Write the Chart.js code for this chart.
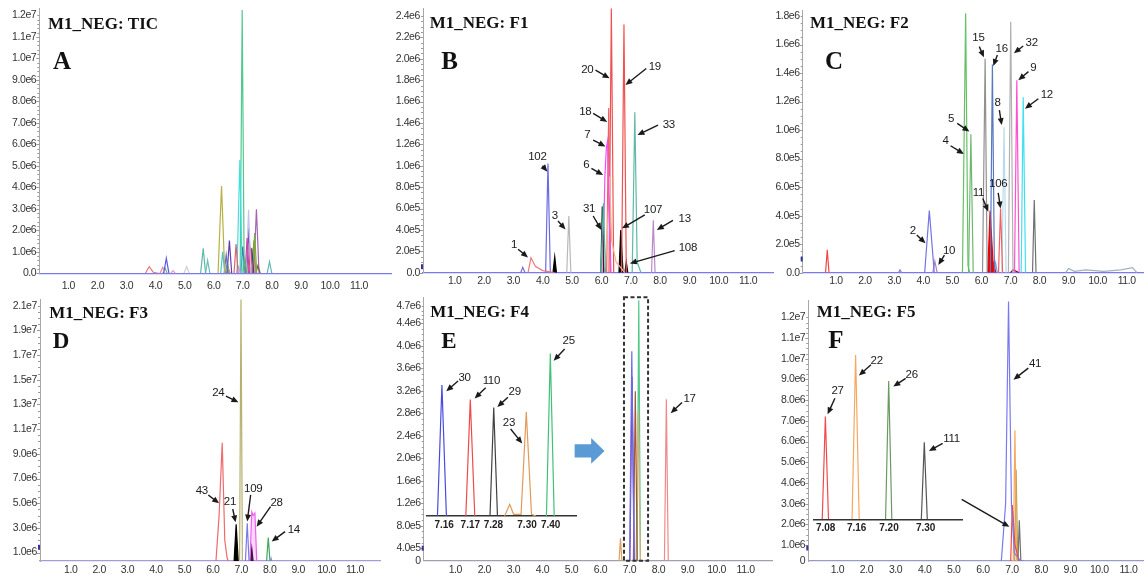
<!DOCTYPE html>
<html>
<head>
<meta charset="utf-8">
<script src="https://cdn.jsdelivr.net/npm/chart.js@4.4.0/dist/chart.umd.min.js"></script>
<style>
  html, body { margin: 0; padding: 0; background: #fff; }
  body { width: 1144px; height: 574px; position: relative; overflow: hidden; }
  canvas { position: absolute; }
</style>
</head>
<body>
<canvas id="cA" width="395" height="295" style="left:0px;top:0px"></canvas>
<canvas id="cB" width="400" height="295" style="left:378px;top:0px"></canvas>
<canvas id="cC" width="384" height="295" style="left:760px;top:0px"></canvas>
<canvas id="cD" width="385" height="284" style="left:0px;top:290px"></canvas>
<canvas id="cE" width="400" height="284" style="left:378px;top:290px"></canvas>
<canvas id="cF" width="384" height="284" style="left:760px;top:290px"></canvas>
<canvas id="iE" width="165" height="205" style="left:420px;top:330px"></canvas>
<canvas id="iF" width="165" height="200" style="left:806px;top:342px"></canvas>
<script>
// retention time axis (min)
const xTickVals = [1, 2, 3, 4, 5, 6, 7, 8, 9, 10, 11];
const xTickText = ["1.0", "2.0", "3.0", "4.0", "5.0", "6.0", "7.0", "8.0", "9.0", "10.0", "11.0"];

// intensities are in units of 1e6 counts
const yTickValsA = [0, 1, 2, 3, 4, 5, 6, 7, 8, 9, 10, 11, 12];
const yTickTextA = ["0.0", "1.0e6", "2.0e6", "3.0e6", "4.0e6", "5.0e6", "6.0e6", "7.0e6", "8.0e6", "9.0e6", "1.0e7", "1.1e7", "1.2e7"];
const yTickValsB = [0, 0.2, 0.4, 0.6, 0.8, 1.0, 1.2, 1.4, 1.6, 1.8, 2.0, 2.2, 2.4];
const yTickTextB = ["0.0", "2.0e5", "4.0e5", "6.0e5", "8.0e5", "1.0e6", "1.2e6", "1.4e6", "1.6e6", "1.8e6", "2.0e6", "2.2e6", "2.4e6"];
const yTickValsC = [0, 0.2, 0.4, 0.6, 0.8, 1.0, 1.2, 1.4, 1.6, 1.8];
const yTickTextC = ["0.0", "2.0e5", "4.0e5", "6.0e5", "8.0e5", "1.0e6", "1.2e6", "1.4e6", "1.6e6", "1.8e6"];
const yTickValsD = [1, 3, 5, 7, 9, 11, 13, 15, 17, 19, 21];
const yTickTextD = ["1.0e6", "3.0e6", "5.0e6", "7.0e6", "9.0e6", "1.1e7", "1.3e7", "1.5e7", "1.7e7", "1.9e7", "2.1e7"];
const yTickValsE = [0.178, 0.4, 0.8, 1.2, 1.6, 2.0, 2.4, 2.8, 3.2, 3.6, 4.0, 4.4, 4.7];
const yTickTextE = ["0", "4.0e5", "8.0e5", "1.2e6", "1.6e6", "2.0e6", "2.4e6", "2.8e6", "3.2e6", "3.6e6", "4.0e6", "4.4e6", "4.7e6"];
const yTickValsF = [0.227, 1, 2, 3, 4, 5, 6, 7, 8, 9, 10, 11, 12];
const yTickTextF = ["0", "1.0e6", "2.0e6", "3.0e6", "4.0e6", "5.0e6", "6.0e6", "7.0e6", "8.0e6", "9.0e6", "1.0e7", "1.1e7", "1.2e7"];

// A: TIC
const peaksA = [
  [[3.65, 0], [3.78, 0.31], [3.92, 0.05], [4.1, 0]],
  [[4.15, 0], [4.25, 0.28], [4.32, 0]],
  [[4.28, 0], [4.37, 0.7], [4.46, 0]],
  [[4.25, 0], [4.33, 0.23], [4.4, 0]],
  [[4.52, 0], [4.6, 0.12], [4.68, 0]],
  [[4.98, 0], [5.07, 0.31], [5.16, 0]],
  [[5.55, 0], [5.64, 1.16], [5.72, 0]],
  [[5.72, 0], [5.79, 0.6], [5.87, 0]],
  [[6.15, 0], [6.27, 4.06], [6.38, 0]],
  [[6.24, 0], [6.31, 1.0], [6.38, 0]],
  [[6.36, 0], [6.43, 0.85], [6.5, 0]],
  [[6.46, 0], [6.54, 1.52], [6.62, 0]],
  [[6.44, 0], [6.5, 0.23], [6.58, 0]],
  [[6.4, 0], [6.47, 0.5], [6.54, 0]],
  [[6.7, 0], [6.77, 1.36], [6.84, 0]],
  [[6.78, 0], [6.85, 0.3], [6.92, 0]],
  [[6.8, 0], [6.9, 5.27], [6.98, 0]],
  [[6.91, 0], [6.98, 12.25], [7.05, 0]],
  [[6.93, 0], [7.0, 1.24], [7.07, 0]],
  [[7.0, 0], [7.07, 0.62], [7.14, 0]],
  [[7.08, 0], [7.15, 1.64], [7.22, 0]],
  [[7.11, 0], [7.2, 2.95], [7.28, 0]],
  [[7.14, 0], [7.21, 2.09], [7.28, 0]],
  [[7.2, 0], [7.27, 1.2], [7.34, 0]],
  [[7.24, 0], [7.31, 1.16], [7.38, 0]],
  [[7.31, 0], [7.38, 1.52], [7.45, 0]],
  [[7.34, 0], [7.41, 1.87], [7.48, 0]],
  [[7.45, 0], [7.52, 0.35], [7.6, 0]],
  [[7.38, 0], [7.47, 2.98], [7.56, 0]],
  [[7.84, 0], [7.92, 0.54], [8.0, 0]]
];
const colorsA = ["#e87a7a", "#e48aa8", "#5a5ae0", "#59b5a5", "#e59ab8", "#d0d0d0", "#5fb8aa", "#6cc0b5",
  "#b8b040", "#40c8c8", "#6070d0", "#6040b0", "#e0a050", "#60a080", "#e06070", "#c0a0e0", "#40e0e0",
  "#50c890", "#3050b0", "#60b060", "#d040a0", "#c8c0f0", "#8050b0", "#e04060", "#304090", "#90a030",
  "#70b040", "#806040", "#a860b8", "#60b8b0"];

// B: F1
const peaksB = [
  [[3.25, 0], [3.32, 0.05], [3.4, 0]],
  [[3.5, 0], [3.6, 0.14], [3.75, 0.06], [4.0, 0.02], [4.4, 0]],
  [[4.1, 0], [4.18, 1.02], [4.26, 0]],
  [[4.35, 0], [4.41, 0.15], [4.47, 0]],
  [[4.82, 0], [4.89, 0.53], [4.96, 0]],
  [[5.98, 0], [6.07, 0.65], [6.14, 0]],
  [[5.98, 0], [6.03, 0.62], [6.08, 0]],
  [[6.05, 0], [6.12, 0.9], [6.17, 1.17], [6.21, 1.23], [6.26, 0.6], [6.32, 0]],
  [[6.1, 0], [6.2, 0.35], [6.28, 0.9], [6.35, 0.3], [6.5, 0.1], [6.8, 0]],
  [[6.18, 0], [6.25, 1.54], [6.32, 0]],
  [[6.26, 0], [6.34, 2.47], [6.42, 0]],
  [[6.69, 0], [6.77, 2.32], [6.85, 0]],
  [[6.6, 0], [6.66, 0.4], [6.74, 0]],
  [[6.8, 0], [6.85, 0.1], [6.9, 0]],
  [[7.05, 0], [7.14, 1.5], [7.22, 0.1], [7.35, 0]],
  [[7.71, 0], [7.77, 0.49], [7.83, 0]]
];
const colorsB = ["#7070e0", "#f07878", "#6a6ae8", "#000000", "#b8b8b8", "#50b8a0", "#202020", "#f050f0",
  "#f5b090", "#f06060", "#f05050", "#f05050", "#000000", "#000000", "#60b8a8", "#b88ac8"];
const fillB = [false, false, false, true, false, false, false, false, false, false, false, false, true, true, false, false];

// C: F2
const peaksC = [
  [[0.64, 0], [0.7, 0.16], [0.76, 0]],
  [[3.15, 0], [3.2, 0.02], [3.26, 0]],
  [[4.05, 0], [4.21, 0.435], [4.38, 0]],
  [[4.33, 0], [4.4, 0.08], [4.48, 0]],
  [[5.35, 0], [5.46, 1.82], [5.54, 0.05], [5.6, 0]],
  [[5.56, 0], [5.64, 0.97], [5.72, 0]],
  [[6.04, 0], [6.13, 1.5], [6.2, 0]],
  [[6.31, 0], [6.38, 1.46], [6.45, 0]],
  [[6.22, 0], [6.3, 0.435], [6.4, 0.08], [6.5, 0]],
  [[6.59, 0], [6.66, 0.45], [6.73, 0]],
  [[6.71, 0], [6.78, 1.02], [6.85, 0]],
  [[6.93, 0], [7.01, 1.76], [7.09, 0]],
  [[7.14, 0], [7.22, 1.35], [7.3, 0]],
  [[7.37, 0], [7.44, 1.23], [7.52, 0]],
  [[7.76, 0], [7.82, 0.51], [7.88, 0]],
  [[6.44, 0], [6.49, 0.07], [6.55, 0]],
  [[7.0, 0], [7.1, 0.02], [7.3, 0]],
  [[8.9, 0], [9.0, 0.03], [9.2, 0.01], [9.6, 0.02], [10.2, 0.01], [10.8, 0.02], [11.2, 0.035], [11.35, 0]]
];
const colorsC = ["#f04848", "#8080e0", "#7474e4", "#b080c8", "#66c066", "#70b870", "#909090", "#5878c0",
  "#ee0000", "#f06060", "#b8dceb", "#b0b0b0", "#ff50d0", "#40e0f0", "#707070", "#80a0e0", "#900030", "#a0b0c0"];
const fillC = [false, false, false, false, false, false, false, false, true, false, false, false, false, false, false, false, false, false];

// D: F3
const peaksD = [
  [[6.1, 0], [6.22, 4.0], [6.33, 9.9], [6.42, 2.0], [6.5, 0.6], [6.58, 0]],
  [[6.94, 0], [6.99, 21.5], [7.04, 0]],
  [[6.74, 0], [6.82, 3.3], [6.9, 0]],
  [[7.14, 0], [7.21, 3.38], [7.28, 0]],
  [[7.3, 0], [7.37, 4.3], [7.42, 4.0], [7.48, 4.2], [7.55, 0]],
  [[7.31, 0], [7.37, 1.35], [7.43, 0]],
  [[7.88, 0], [7.95, 2.21], [8.02, 0]],
  [[8.0, 0], [8.05, 0.5], [8.1, 0]]
];
const colorsD = ["#f06a6a", "#b8b070", "#000000", "#7878f0", "#f060f0", "#000000", "#40a860", "#8080f0"];
const fillD = [false, false, "#000000", false, "rgba(240,96,240,0.25)", "#000000", false, false];

// E: F4
const peaksE = [
  [[6.62, 0], [6.69, 0.575], [6.76, 0]],
  [[7.0, 0], [7.08, 3.9], [7.16, 0]],
  [[7.01, 0], [7.09, 3.45], [7.17, 0]],
  [[7.13, 0], [7.2, 3.19], [7.27, 0]],
  [[7.22, 0], [7.3, 2.83], [7.38, 0]],
  [[7.26, 0], [7.32, 4.81], [7.38, 0]],
  [[8.2, 0], [8.27, 3.05], [8.34, 0]]
];
const colorsE = ["#e0a060", "#6a6ae8", "#7a40a8", "#a05838", "#d8b078", "#50c888", "#f08a8a"];

// F: F5
const peaksF = [
  [[6.62, 0], [6.78, 3.0], [6.88, 12.77], [6.98, 3.0], [7.08, 0.6], [7.3, 0.25], [7.8, 0.05], [8.2, 0]],
  [[6.95, 0], [7.01, 2.93], [7.1, 1.0], [7.25, 0.2], [7.4, 0]],
  [[7.04, 0], [7.1, 6.54], [7.16, 0]],
  [[7.09, 0], [7.14, 4.65], [7.2, 0]],
  [[7.2, 0], [7.25, 2.19], [7.31, 0]],
  [[7.2, 0], [7.4, 0.2], [7.8, 0.1], [8.2, 0]]
];
const colorsF = ["#7a7af0", "#f04848", "#f8a860", "#b0a048", "#707070", "#a080c0"];

// insets (zoomed single peaks, own axis)
const insetETickVals = [1.15, 2.9, 4.45, 6.7, 8.28];
const insetETickText = ["7.16", "7.17", "7.28", "7.30", "7.40"];
const insetEPeaks = [
  [[0.7, 0], [1.0, 2.33], [1.3, 0]],
  [[2.6, 0], [2.9, 2.07], [3.2, 0]],
  [[4.22, 0], [4.47, 1.93], [4.72, 0]],
  [[5.2, 0], [5.54, 0.207], [5.8, 0.03], [6.3, 0.03], [6.65, 1.85], [7.0, 0.03], [7.3, 0]],
  [[8.0, 0], [8.26, 2.89], [8.52, 0]]
];
const insetEColors = ["#4a4ae0", "#ee4a4a", "#404040", "#e09a5a", "#40c078"];
const insetFTickVals = [0.83, 2.91, 5.08, 7.54];
const insetFTickText = ["7.08", "7.16", "7.20", "7.30"];
const insetFPeaks = [
  [[0.6, 0], [0.81, 4.96], [1.02, 0]],
  [[2.6, 0], [2.84, 7.94], [3.08, 0]],
  [[4.85, 0], [5.06, 6.68], [5.27, 0]],
  [[7.25, 0], [7.45, 3.72], [7.65, 0]]
];
const insetFColors = ["#f04a4a", "#f5a860", "#6a9a60", "#555555"];

// compound labels: [text, textX, textY, fromX, fromY, toX, toY]
const notesB = [
  ["1", 3.02, 0.26, 3.16, 0.22, 3.5, 0.143],
  ["102", 3.82, 1.085, 3.99, 1.0, 4.16, 0.945],
  ["3", 4.41, 0.53, 4.52, 0.483, 4.78, 0.405],
  ["31", 5.58, 0.595, 5.72, 0.53, 6.0, 0.4],
  ["6", 5.49, 1.013, 5.66, 0.976, 6.06, 0.913],
  ["7", 5.52, 1.287, 5.72, 1.24, 6.14, 1.18],
  ["18", 5.45, 1.506, 5.72, 1.49, 6.2, 1.41],
  ["20", 5.52, 1.9, 5.8, 1.895, 6.28, 1.817],
  ["19", 7.82, 1.926, 7.53, 1.91, 6.82, 1.755],
  ["33", 8.3, 1.38, 7.93, 1.38, 7.23, 1.287],
  ["107", 7.76, 0.586, 7.48, 0.54, 6.7, 0.415],
  ["13", 8.84, 0.508, 8.44, 0.49, 7.89, 0.4],
  ["108", 8.95, 0.228, 8.5, 0.206, 6.97, 0.087]
];
const notesC = [
  ["2", 3.64, 0.295, 3.78, 0.264, 4.08, 0.206],
  ["10", 4.89, 0.154, 4.73, 0.124, 4.52, 0.054],
  ["4", 4.77, 0.923, 4.94, 0.89, 5.4, 0.832],
  ["5", 4.96, 1.08, 5.17, 1.047, 5.59, 0.99],
  ["15", 5.9, 1.648, 5.93, 1.585, 6.09, 1.51],
  ["16", 6.7, 1.573, 6.55, 1.526, 6.41, 1.449],
  ["32", 7.73, 1.615, 7.44, 1.59, 7.12, 1.538],
  ["9", 7.79, 1.44, 7.62, 1.41, 7.27, 1.35],
  ["12", 8.25, 1.25, 7.96, 1.22, 7.5, 1.15],
  ["8", 6.56, 1.19, 6.62, 1.14, 6.7, 1.035],
  ["11", 5.9, 0.56, 6.05, 0.52, 6.24, 0.428],
  ["106", 6.58, 0.626, 6.58, 0.56, 6.66, 0.45]
];
const notesD = [
  ["24", 6.19, 13.98, 6.46, 13.68, 6.9, 13.17],
  ["43", 5.61, 5.99, 5.84, 5.67, 6.22, 4.99],
  ["21", 6.6, 5.13, 6.7, 4.53, 6.8, 3.45],
  ["109", 7.42, 6.13, 7.33, 5.67, 7.21, 3.51],
  ["28", 8.24, 5.07, 8.03, 4.72, 7.54, 3.1],
  ["14", 8.85, 2.83, 8.54, 2.7, 8.07, 1.89]
];
const notesE = [["17", 9.07, 3.06, 8.81, 2.99, 8.42, 2.8]];
const notesF = [
  ["41", 7.79, 9.76, 7.56, 9.55, 7.05, 8.99],
  ["", 0, 0, 5.27, 3.2, 6.91, 1.88]
];
const notesInsetE = [
  ["30", 2.52, 2.46, 2.08, 2.4, 1.29, 2.22],
  ["110", 4.31, 2.4, 3.93, 2.28, 3.19, 2.09],
  ["29", 5.87, 2.2, 5.42, 2.11, 4.71, 1.94],
  ["23", 5.49, 1.665, 5.6, 1.547, 6.38, 1.29],
  ["25", 9.49, 3.11, 9.22, 2.97, 8.48, 2.76]
];
const notesInsetF = [
  ["27", 1.63, 6.2, 1.45, 5.85, 0.96, 5.07],
  ["22", 4.25, 7.65, 3.87, 7.46, 3.06, 6.94],
  ["26", 6.6, 6.97, 6.2, 6.81, 5.37, 6.41],
  ["111", 9.28, 3.88, 8.68, 3.67, 7.76, 3.3]
];

const SANS = "'Liberation Sans', Arial, sans-serif";
const SERIF = "'Liberation Serif', 'Times New Roman', serif";

function drawArrow(ctx, x1, y1, x2, y2) {
  var ang = Math.atan2(y2 - y1, x2 - x1);
  var L = 7, W = 3;
  ctx.beginPath();
  ctx.moveTo(x1, y1);
  ctx.lineTo(x2 - Math.cos(ang) * L * 0.7, y2 - Math.sin(ang) * L * 0.7);
  ctx.stroke();
  ctx.beginPath();
  ctx.moveTo(x2, y2);
  ctx.lineTo(x2 - L * Math.cos(ang) + W * Math.sin(ang), y2 - L * Math.sin(ang) - W * Math.cos(ang));
  ctx.lineTo(x2 - L * Math.cos(ang) - W * Math.sin(ang), y2 - L * Math.sin(ang) + W * Math.cos(ang));
  ctx.closePath();
  ctx.fill();
}

const notesPlugin = {
  id: "notes",
  beforeDraw(chart, args, o) {
    // the scanned tick labels are a bit condensed
    chart.ctx.letterSpacing = o.squeeze || "0px";
  },
  afterDraw(chart, args, o) {
    var ctx = chart.ctx, xs = chart.scales.x, ys = chart.scales.y, a = chart.chartArea;
    ctx.save();
    // minor ticks along the y axis
    if (o.minor && ys.options.display) {
      var t = ys.ticks;
      ctx.strokeStyle = "#9a9a9a";
      ctx.lineWidth = 1;
      for (var i = o.minorFrom || 0; i < t.length - 1; i++) {
        var p0 = ys.getPixelForValue(t[i].value), p1 = ys.getPixelForValue(t[i + 1].value);
        for (var k = 0; k <= o.minor; k++) {
          var py = Math.round(p0 + (p1 - p0) * k / o.minor) + 0.5;
          ctx.beginPath();
          ctx.moveTo(a.left - (k === 0 ? 3 : 2), py);
          ctx.lineTo(a.left, py);
          ctx.stroke();
        }
      }
    }
    if (o.mark !== undefined) {
      ctx.fillStyle = "#34349a";
      ctx.fillRect(a.left - 2, ys.getPixelForValue(o.mark) - 2.5, 2, 5);
    }
    if (o.box) {
      ctx.setLineDash([4, 2.5]);
      ctx.strokeStyle = "#333";
      ctx.lineWidth = 2;
      var bx0 = xs.getPixelForValue(o.box[0]), bx1 = xs.getPixelForValue(o.box[1]);
      var by0 = ys.getPixelForValue(o.box[2]), by1 = ys.getPixelForValue(o.box[3]);
      ctx.strokeRect(bx0, by1, bx1 - bx0, by0 - by1);
      ctx.setLineDash([]);
    }
    if (o.block) {
      var b = o.block;
      var X0 = xs.getPixelForValue(b[0]), X1 = xs.getPixelForValue(b[1]), X2 = xs.getPixelForValue(b[2]);
      var yc = ys.getPixelForValue(b[3]);
      var sh = ys.getPixelForValue(b[3] - b[4]) - yc, hh = ys.getPixelForValue(b[3] - b[5]) - yc;
      ctx.fillStyle = "#5b9bd5";
      ctx.beginPath();
      ctx.moveTo(X0, yc - sh); ctx.lineTo(X1, yc - sh); ctx.lineTo(X1, yc - hh);
      ctx.lineTo(X2, yc); ctx.lineTo(X1, yc + hh); ctx.lineTo(X1, yc + sh); ctx.lineTo(X0, yc + sh);
      ctx.closePath();
      ctx.fill();
    }
    ctx.strokeStyle = "#1a1a1a";
    ctx.fillStyle = "#1a1a1a";
    ctx.lineWidth = 1.4;
    ctx.letterSpacing = "-0.3px";
    ctx.font = "11.5px " + SANS;
    ctx.textAlign = "center";
    ctx.textBaseline = "middle";
    (o.items || []).forEach(function (n) {
      drawArrow(ctx, xs.getPixelForValue(n[3]), ys.getPixelForValue(n[4]),
        xs.getPixelForValue(n[5]), ys.getPixelForValue(n[6]));
      if (n[0]) ctx.fillText(n[0], xs.getPixelForValue(n[1]), ys.getPixelForValue(n[2]));
    });
    if (o.title) {
      ctx.letterSpacing = "0px";
      ctx.fillStyle = "#111";
      ctx.textAlign = "left";
      ctx.textBaseline = "alphabetic";
      ctx.font = "bold 17px " + SERIF;
      ctx.fillText(o.title, a.left + o.tpos[0], a.top + o.tpos[1]);
      ctx.font = "bold " + (o.lsize || 25) + "px " + SERIF;
      ctx.fillText(o.letter, a.left + o.lpos[0], a.top + o.lpos[1]);
    }
    ctx.restore();
  }
};

function buildSets(peaks, colors, fills) {
  return peaks.map(function (p, i) {
    var f = fills ? fills[i] : false;
    return {
      data: p.map(function (q) { return { x: q[0], y: q[1] }; }),
      borderColor: colors[i],
      backgroundColor: f ? (f === true ? colors[i] : f) : "transparent",
      fill: f ? "origin" : false,
      borderWidth: 1.2,
      pointRadius: 0,
      tension: 0
    };
  });
}

function fixTicks(vals) {
  return function (scale) { scale.ticks = vals.map(function (v) { return { value: v }; }); };
}

function panel(id, box, g, sets, yVals, yText, extra) {
  var yW = g.L - box[0], padTop = g.T - box[1], padRight = box[0] + box[2] - g.R, xH = box[1] + box[3] - g.B;
  extra.squeeze = "-0.4px";
  return new Chart(document.getElementById(id), {
    type: "line",
    data: { datasets: sets },
    plugins: [notesPlugin],
    options: {
      responsive: false,
      animation: false,
      events: [],
      layout: { padding: { left: 0, top: padTop, right: padRight, bottom: 0 } },
      plugins: { legend: { display: false }, tooltip: { enabled: false }, notes: extra },
      scales: {
        x: {
          type: "linear",
          min: g.xmin,
          max: g.xmax,
          afterBuildTicks: fixTicks(xTickVals),
          afterFit: function (s) { s.height = xH; s.paddingLeft = 0; s.paddingRight = 0; s.paddingTop = 0; s.paddingBottom = 0; },
          grid: { display: false, drawTicks: false },
          border: { display: true, color: g.base, width: 1.3 },
          ticks: {
            autoSkip: false,
            maxRotation: 0,
            padding: g.xpad,
            color: "#333",
            font: { size: 10.5, family: SANS },
            callback: function (v, i) { return xTickText[i]; }
          }
        },
        y: {
          type: "linear",
          min: g.ymin,
          max: g.ymax,
          afterBuildTicks: fixTicks(yVals),
          afterFit: function (s) { s.width = yW; s.paddingLeft = 0; s.paddingRight = 0; s.paddingTop = 0; s.paddingBottom = 0; },
          grid: { display: false, drawTicks: false },
          border: { display: true, color: "#a8a8a8", width: 1 },
          ticks: {
            autoSkip: false,
            padding: 3,
            color: "#333",
            font: { size: 10.5, family: SANS },
            callback: function (v, i) { return yText[i]; }
          }
        }
      }
    }
  });
}

function inset(id, box, g, sets, tVals, tText, items) {
  return new Chart(document.getElementById(id), {
    type: "line",
    data: { datasets: sets },
    plugins: [notesPlugin],
    options: {
      responsive: false,
      animation: false,
      events: [],
      layout: { padding: { left: g.L - box[0], top: g.T - box[1], right: box[0] + box[2] - g.R, bottom: 0 } },
      plugins: { legend: { display: false }, tooltip: { enabled: false }, notes: { items: items } },
      scales: {
        x: {
          type: "linear",
          min: 0,
          max: 10,
          afterBuildTicks: fixTicks(tVals),
          afterFit: function (s) { s.height = box[1] + box[3] - g.B; s.paddingLeft = 0; s.paddingRight = 0; },
          grid: { display: false, drawTicks: false },
          border: { display: true, color: "#333", width: 1.5 },
          ticks: {
            autoSkip: false,
            maxRotation: 0,
            padding: 3,
            color: "#222",
            font: { size: 10, weight: "bold", family: SANS },
            callback: function (v, i) { return tText[i]; }
          }
        },
        y: { type: "linear", min: 0, max: g.ymax, display: false }
      }
    }
  });
}

panel("cA", [0, 0, 395, 295],
  { L: 39.3, T: 8, R: 391, B: 273.3, xmin: 0, xmax: 12.1, ymin: 0, ymax: 12.34, xpad: 6.5, base: "#7a7af0" },
  buildSets(peaksA, colorsA), yTickValsA, yTickTextA,
  { minor: 5, title: "M1_NEG: TIC", tpos: [8.7, 21], letter: "A", lpos: [13.7, 61] });

panel("cB", [378, 0, 400, 295],
  { L: 423, T: 8, R: 773, B: 272.7, xmin: -0.08, xmax: 11.85, ymin: 0, ymax: 2.475, xpad: 2, base: "#7a7af0" },
  buildSets(peaksB, colorsB, fillB), yTickValsB, yTickTextB,
  { minor: 4, mark: 0.056, items: notesB, title: "M1_NEG: F1", tpos: [6.7, 20.3], letter: "B", lpos: [18.3, 61] });

panel("cC", [760, 0, 384, 295],
  { L: 802.7, T: 10, R: 1143, B: 272.7, xmin: -0.145, xmax: 11.56, ymin: 0, ymax: 1.842, xpad: 2.5, base: "#7a7af0" },
  buildSets(peaksC, colorsC, fillC), yTickValsC, yTickTextC,
  { minor: 4, mark: 0.096, items: notesC, title: "M1_NEG: F2", tpos: [7.3, 18.3], letter: "C", lpos: [22.3, 59] });

panel("cD", [0, 290, 385, 284],
  { L: 40, T: 299, R: 380, B: 561, xmin: -0.08, xmax: 11.88, ymin: 0.32, ymax: 21.54, xpad: 3, base: "#a89ad8" },
  buildSets(peaksD, colorsD, fillD), yTickValsD, yTickTextD,
  { minor: 4, mark: 1.43, items: notesD, title: "M1_NEG: F3", tpos: [9.3, 19.3], letter: "D", lpos: [12.7, 49.3], lsize: 23 });

panel("cE", [378, 290, 400, 284],
  { L: 423.7, T: 297, R: 772, B: 560.7, xmin: -0.09, xmax: 11.91, ymin: 0.178, ymax: 4.866, xpad: 3, base: "#a0a0b0" },
  buildSets(peaksE, colorsE), yTickValsE, yTickTextE,
  { minor: 4, minorFrom: 1, mark: 0.4, items: notesE, box: [6.81, 7.64, 0.178, 4.86], block: [5.11, 5.68, 6.14, 2.13, 0.119, 0.228],
    title: "M1_NEG: F4", tpos: [6.6, 19.7], letter: "E", lpos: [17.6, 51.3], lsize: 23 });

panel("cF", [760, 290, 384, 284],
  { L: 808.3, T: 300, R: 1143, B: 561, xmin: 0, xmax: 11.5, ymin: 0.227, ymax: 12.84, xpad: 3, base: "#9a9ac8" },
  buildSets(peaksF, colorsF), yTickValsF, yTickTextF,
  { minor: 4, minorFrom: 1, mark: 0.855, items: notesF, title: "M1_NEG: F5", tpos: [8.4, 16.7], letter: "F", lpos: [20, 48.3] });

inset("iE", [420, 330, 165, 205], { L: 427, T: 340, R: 576.3, B: 516, ymax: 3.13 },
  buildSets(insetEPeaks, insetEColors), insetETickVals, insetETickText, notesInsetE);

inset("iF", [806, 342, 165, 200], { L: 813.3, T: 352, R: 962.3, B: 519.3, ymax: 8.08 },
  buildSets(insetFPeaks, insetFColors), insetFTickVals, insetFTickText, notesInsetF);
</script>
</body>
</html>
